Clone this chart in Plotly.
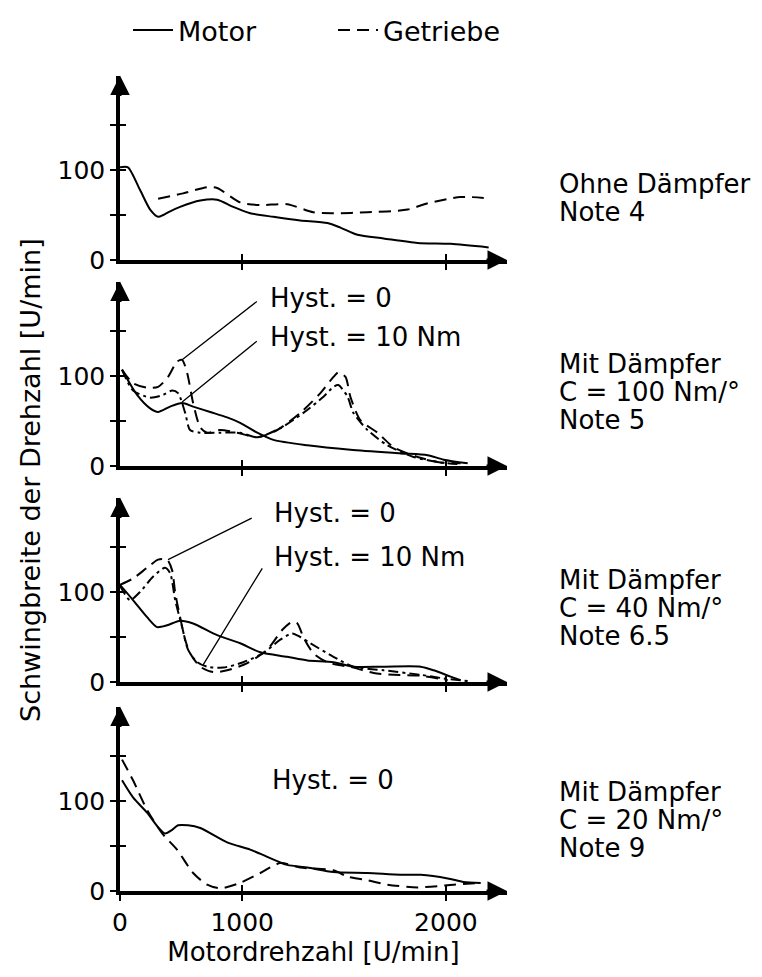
import plotly.graph_objects as go

FONT = "DejaVu Sans"
W, H = 762, 977

# ---------------- data (x in U/min, y in U/min) ----------------
x_tick_vals = [400, 1000, 2000]
x_tick_text = ["0", "1000", "2000"]
y_tick_vals = [0, 50, 100, 150]
y_tick_text = ["0", "", "100", ""]
X_RANGE = [400, 2300]
Y_RANGE = [0, 205]

# Panel 1: Ohne Dämpfer
p1_motor_x = [400, 439, 498, 548, 587, 612, 636, 695, 794, 877, 956, 1039, 1153, 1285, 1418, 1482, 1566, 1694, 1861, 2023, 2210]
p1_motor_y = [103, 103, 78, 56, 48, 50, 53, 59, 66, 67, 59, 52, 48, 44, 41, 36, 28, 24, 19, 18, 14]
p1_getr_x = [587, 710, 828, 877, 990, 1089, 1221, 1349, 1448, 1615, 1812, 1910, 2072, 2186]
p1_getr_y = [68, 74, 81, 80, 64, 61, 62, 53, 52, 53, 56, 63, 70, 69]

# Panel 2: C = 100 Nm/°
p2_motor_x = [410, 484, 548, 587, 646, 705, 759, 843, 926, 990, 1074, 1153, 1320, 1531, 1777, 1910, 1989, 2107]
p2_motor_y = [107, 79, 64, 60, 66, 70, 66, 60, 54, 48, 37, 29, 23, 18, 14, 12, 7, 3]
p2_h0_x = [410, 464, 533, 587, 636, 680, 705, 730, 759, 794, 828, 892, 976, 1074, 1172, 1285, 1384, 1448, 1472, 1507, 1531, 1580, 1664, 1743, 1861, 1974, 2072]
p2_h0_y = [107, 92, 87, 88, 99, 116, 118, 103, 70, 43, 37, 40, 37, 32, 40, 59, 81, 99, 104, 99, 77, 51, 37, 21, 10, 4, 3]
p2_h10_x = [410, 464, 548, 612, 656, 685, 720, 744, 794, 892, 990, 1074, 1187, 1300, 1399, 1448, 1472, 1517, 1546, 1615, 1713, 1841, 1974, 2072]
p2_h10_y = [107, 84, 76, 79, 84, 81, 59, 40, 37, 37, 37, 32, 42, 59, 77, 88, 90, 77, 59, 40, 23, 10, 4, 2]

# Panel 3: C = 40 Nm/°
p3_motor_x = [400, 464, 533, 582, 631, 695, 759, 877, 990, 1089, 1221, 1320, 1448, 1546, 1694, 1876, 1940, 2023, 2072]
p3_motor_y = [108, 91, 72, 61, 63, 68, 65, 52, 43, 33, 28, 24, 22, 17, 17, 17, 13, 6, 2]
p3_h0_x = [400, 464, 533, 587, 631, 656, 671, 695, 720, 744, 794, 857, 926, 1025, 1123, 1197, 1246, 1271, 1300, 1349, 1418, 1546, 1645, 1743, 1876, 2009]
p3_h0_y = [108, 115, 127, 136, 136, 124, 99, 72, 47, 32, 17, 11, 13, 21, 36, 58, 67, 65, 50, 32, 22, 16, 10, 8, 7, 2]
p3_h10_x = [400, 449, 498, 562, 621, 646, 671, 705, 734, 779, 828, 907, 1005, 1103, 1187, 1246, 1285, 1335, 1448, 1546, 1694, 1876, 1989, 2107]
p3_h10_y = [107, 91, 100, 117, 127, 121, 91, 61, 36, 22, 17, 16, 22, 32, 47, 54, 50, 43, 28, 17, 13, 8, 4, 1]

# Panel 4: C = 20 Nm/°
p4_motor_x = [410, 464, 533, 587, 621, 656, 685, 734, 794, 926, 1039, 1123, 1221, 1320, 1448, 1615, 1777, 1876, 2009, 2087, 2171]
p4_motor_y = [123, 104, 87, 71, 64, 68, 73, 73, 70, 54, 46, 38, 29, 26, 21, 20, 18, 18, 14, 10, 9]
p4_h0_x = [410, 464, 533, 607, 680, 759, 828, 892, 990, 1089, 1187, 1285, 1448, 1517, 1615, 1713, 1861, 2038, 2171]
p4_h0_y = [146, 123, 90, 64, 46, 20, 7, 3, 9, 20, 31, 26, 23, 16, 12, 7, 4, 7, 9]

panel_texts = [
    ["Ohne Dämpfer", "Note 4"],
    ["Mit Dämpfer", "C = 100 Nm/°", "Note 5"],
    ["Mit Dämpfer", "C = 40 Nm/°", "Note 6.5"],
    ["Mit Dämpfer", "C = 20 Nm/°", "Note 9"],
]

# ---------------- layout geometry (pixels) ----------------
X_LEFT_PX, X_RIGHT_PX = 120, 507
PANEL_BOTTOM_PX = [260, 466, 682, 891]
PANEL_HEIGHT_PX = 184.5
TEXT_LINES_PX = [[184, 212], [364, 392, 420], [580, 608, 636], [792, 820, 848]]

def px_x(p):
    return p / W

def px_y(p):
    return 1 - p / H

SOLID = dict(color="black", width=2, shape="spline", smoothing=0.7)
DASH = dict(color="black", width=2, dash="12px,7px", shape="spline", smoothing=0.7)
DASHDOT = dict(color="black", width=2, dash="10px,4px,3px,4px", shape="spline", smoothing=0.7)

fig = go.Figure()

def add(x, y, i, line, name=None, legend=False):
    fig.add_trace(go.Scatter(
        x=x, y=y, mode="lines", line=line, name=name, showlegend=legend,
        xaxis="x" if i == 1 else f"x{i}", yaxis="y" if i == 1 else f"y{i}",
        hoverinfo="skip"))

add(p1_motor_x, p1_motor_y, 1, SOLID, "Motor", True)
add(p1_getr_x, p1_getr_y, 1, DASH, "Getriebe", True)
add(p2_motor_x, p2_motor_y, 2, SOLID)
add(p2_h0_x, p2_h0_y, 2, DASH)
add(p2_h10_x, p2_h10_y, 2, DASHDOT)
add(p3_motor_x, p3_motor_y, 3, SOLID)
add(p3_h0_x, p3_h0_y, 3, DASH)
add(p3_h10_x, p3_h10_y, 3, DASHDOT)
add(p4_motor_x, p4_motor_y, 4, SOLID)
add(p4_h0_x, p4_h0_y, 4, DASH)

# empty traces to activate overlay axes (for crossing tick marks)
for i in range(1, 5):
    fig.add_trace(go.Scatter(x=[], y=[], xaxis=f"x{i+4}", yaxis=f"y{i+4}",
                             showlegend=False, hoverinfo="skip"))

layout = {}
tickfont = dict(family=FONT, size=25, color="black")
for i in range(1, 5):
    b = PANEL_BOTTOM_PX[i - 1]
    ydom = [px_y(b), px_y(b - PANEL_HEIGHT_PX)]
    xdom = [px_x(X_LEFT_PX), px_x(X_RIGHT_PX)]
    xn = "xaxis" if i == 1 else f"xaxis{i}"
    yn = "yaxis" if i == 1 else f"yaxis{i}"
    ya = "y" if i == 1 else f"y{i}"
    xa = "x" if i == 1 else f"x{i}"
    last = (i == 4)
    layout[xn] = dict(
        domain=xdom, anchor=ya, range=X_RANGE, showgrid=False, zeroline=False,
        showline=True, linewidth=3.5, linecolor="black",
        tickvals=x_tick_vals if last else x_tick_vals[1:],
        ticktext=x_tick_text if last else x_tick_text[1:],
        showticklabels=last, ticks="outside", ticklen=6, tickwidth=2, tickcolor="black",
        tickfont=tickfont, automargin=False,
    )
    if last:
        layout[xn]["title"] = dict(text="Motordrehzahl [U/min]",
                                   font=dict(family=FONT, size=26, color="black"),
                                   standoff=0)
    layout[yn] = dict(
        domain=ydom, anchor=xa, range=Y_RANGE, showgrid=False, zeroline=False,
        showline=True, linewidth=3.5, linecolor="black",
        tickvals=y_tick_vals, ticktext=y_tick_text, ticks="outside", ticklen=6,
        tickwidth=2, tickcolor="black", tickfont=tickfont, automargin=False,
    )
    # overlay axes with inside ticks -> ticks cross the axis line
    layout[f"xaxis{i+4}"] = dict(
        overlaying=xa, anchor=f"y{i+4}", range=X_RANGE, showgrid=False, zeroline=False,
        showline=False, tickvals=x_tick_vals[1:], showticklabels=False, ticks="inside",
        ticklen=6, tickwidth=2, tickcolor="black", domain=xdom,
    )
    layout[f"yaxis{i+4}"] = dict(
        overlaying=ya, anchor=f"x{i+4}", range=Y_RANGE, showgrid=False, zeroline=False,
        showline=False, tickvals=y_tick_vals[1:], showticklabels=False, ticks="inside",
        ticklen=6, tickwidth=2, tickcolor="black", domain=ydom,
    )

annotations = []
# axis arrowheads
for i in range(1, 5):
    xa = "x" if i == 1 else f"x{i}"
    ya = "y" if i == 1 else f"y{i}"
    annotations.append(dict(x=X_RANGE[1], y=0, xref=xa, yref=ya, text="", showarrow=True,
                            ax=-22, ay=0, arrowhead=2, arrowsize=1.3, arrowwidth=3, arrowcolor="black"))
    annotations.append(dict(x=X_RANGE[0], y=Y_RANGE[1], xref=xa, yref=ya, text="", showarrow=True,
                            ax=0, ay=22, arrowhead=2, arrowsize=1.3, arrowwidth=3, arrowcolor="black"))

# right-hand descriptions
for lines, ys in zip(panel_texts, TEXT_LINES_PX):
    for t, yp in zip(lines, ys):
        annotations.append(dict(x=px_x(557), y=px_y(yp), xref="paper", yref="paper", text=t,
                                showarrow=False, xanchor="left", yanchor="middle",
                                font=dict(family=FONT, size=26, color="black")))

# hysteresis labels and leader lines
label_font = dict(family=FONT, size=26, color="black")
hyst_labels = [
    ("x2", "y2", 1128, 187, "Hyst. = 0"),
    ("x2", "y2", 1128, 143, "Hyst. = 10 Nm"),
    ("x3", "y3", 1148, 188, "Hyst. = 0"),
    ("x3", "y3", 1148, 139, "Hyst. = 10 Nm"),
    ("x4", "y4", 1138, 123, "Hyst. = 0"),
]
for xa, ya, x, y, t in hyst_labels:
    annotations.append(dict(x=x, y=y, xref=xa, yref=ya, text=t, showarrow=False,
                            xanchor="left", yanchor="middle", font=label_font))

leaders = [
    ("x2", "y2", 1079, 184, 705, 118),
    ("x2", "y2", 1079, 140, 705, 71),
    ("x3", "y3", 1054, 183, 636, 136),
    ("x3", "y3", 1103, 128, 808, 19),
]
for xa, ya, x0, y0, x1, y1 in leaders:
    annotations.append(dict(x=x1, y=y1, ax=x0, ay=y0, xref=xa, yref=ya, axref=xa, ayref=ya,
                            text="", showarrow=True, arrowhead=0, arrowwidth=1.3, arrowcolor="black"))

# y-axis title
annotations.append(dict(x=px_x(30), y=px_y(480), xref="paper", yref="paper",
                        text="Schwingbreite der Drehzahl [U/min]", textangle=-90, showarrow=False,
                        xanchor="center", yanchor="middle",
                        font=dict(family=FONT, size=27, color="black")))

fig.update_layout(
    **layout,
    annotations=annotations,
    width=W, height=H,
    margin=dict(l=0, r=0, t=0, b=0),
    paper_bgcolor="white", plot_bgcolor="white",
    font=dict(family=FONT, color="black"),
    showlegend=True,
    legend=dict(orientation="h", x=px_x(128), y=px_y(6), xanchor="left", yanchor="top",
                font=dict(family=FONT, size=27, color="black"), bgcolor="rgba(0,0,0,0)",
                entrywidth=150, entrywidthmode="pixels", itemwidth=40),
)

fig.write_html("out.html")
